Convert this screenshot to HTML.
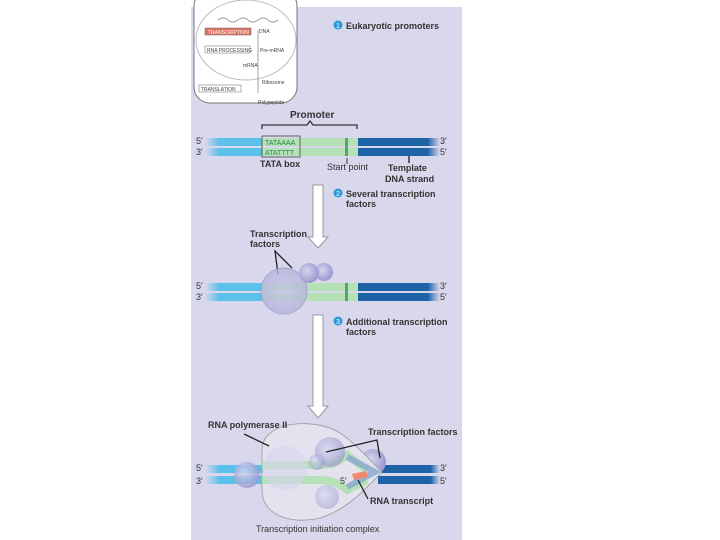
<!DOCTYPE html>
<html><head><style>
body{margin:0;background:#fff;}
svg{display:block;font-family:"Liberation Sans",sans-serif;}
</style></head><body>
<svg width="720" height="540" viewBox="0 0 720 540" xmlns="http://www.w3.org/2000/svg">
<defs>
<linearGradient id="lb" x1="0" x2="1"><stop offset="0" stop-color="#5bc0ea" stop-opacity="0"/><stop offset="0.25" stop-color="#5bc0ea"/><stop offset="1" stop-color="#5bc0ea"/></linearGradient>
<linearGradient id="db" x1="0" x2="1"><stop offset="0" stop-color="#1e63a8"/><stop offset="0.85" stop-color="#1e63a8"/><stop offset="1" stop-color="#1e63a8" stop-opacity="0"/></linearGradient>
<radialGradient id="ball" cx="0.4" cy="0.4" r="0.6"><stop offset="0" stop-color="#d6d6f0"/><stop offset="1" stop-color="#9a9ad0"/></radialGradient>
<radialGradient id="bigball" cx="0.5" cy="0.5" r="0.5"><stop offset="0" stop-color="#c4c4e4" stop-opacity="0.7"/><stop offset="1" stop-color="#b4b4dc" stop-opacity="0.8"/></radialGradient>
<g id="dna">
<rect x="205" y="0" width="57" height="8" fill="url(#lb)"/>
<rect x="205" y="10" width="57" height="8" fill="url(#lb)"/>
<rect x="262" y="0" width="96" height="8" fill="#b6e0b6"/>
<rect x="262" y="10" width="96" height="8" fill="#b6e0b6"/>
<rect x="345" y="0" width="3" height="18" fill="#4faa6a"/>
<rect x="358" y="0" width="82" height="8" fill="url(#db)"/>
<rect x="358" y="10" width="82" height="8" fill="url(#db)"/>
</g>
</defs>
<rect x="191" y="7" width="271" height="533" fill="#d9d7eb"/>
<!-- inset -->
<rect x="194" y="-10" width="103" height="113" rx="16" fill="#fff" stroke="#777" stroke-width="1"/>
<ellipse cx="246" cy="40" rx="50" ry="40" fill="none" stroke="#bbb"/>
<path d="M218 20 q5-4 10 0 t10 0 t10 0 t10 0 t10 0 t10 0" fill="none" stroke="#999"/>
<rect x="205" y="28" width="46" height="7" fill="#e07060" stroke="#666" stroke-width="0.5"/>
<text x="208" y="34" font-size="5" fill="#fff">TRANSCRIPTION</text>
<text x="259" y="33" font-size="5" fill="#444">DNA</text>
<rect x="205" y="46" width="45" height="7" fill="#fff" stroke="#666" stroke-width="0.5"/>
<text x="207" y="52" font-size="5" fill="#444">RNA PROCESSING</text>
<text x="260" y="52" font-size="5" fill="#444">Pre-mRNA</text>
<text x="243" y="67" font-size="5" fill="#444">mRNA</text>
<rect x="199" y="85" width="42" height="7" fill="#fff" stroke="#666" stroke-width="0.5"/>
<text x="201" y="91" font-size="5" fill="#444">TRANSLATION</text>
<text x="262" y="84" font-size="5" fill="#444">Ribosome</text>
<text x="258" y="104" font-size="5" fill="#444">Polypeptide</text>
<line x1="258" y1="30" x2="258" y2="93" stroke="#666" stroke-width="0.6"/>
<!-- step1 -->
<circle cx="338" cy="25" r="4.5" fill="#2a9ad8"/><text x="336" y="28" font-size="7" fill="#fff">1</text>
<text x="346" y="29" font-size="9" font-weight="bold" fill="#333">Eukaryotic promoters</text>
<text x="290" y="118" font-size="10" font-weight="bold" fill="#333">Promoter</text>
<path d="M262 129 v-4 h45 l3 -4 l3 4 h44 v4" fill="none" stroke="#333" stroke-width="1.3"/>
<text x="196" y="144" font-size="9" fill="#333">5′</text><text x="196" y="155" font-size="9" fill="#333">3′</text>
<text x="440" y="144" font-size="9" fill="#333">3′</text><text x="440" y="155" font-size="9" fill="#333">5′</text>
<use href="#dna" y="138"/>
<rect x="262" y="136" width="38" height="21" fill="none" stroke="#444" stroke-width="0.8"/>
<text x="265" y="145" font-size="7" fill="#2a8a4a">TATAAAA</text>
<text x="265" y="155" font-size="7" fill="#2a8a4a">ATATTTT</text>
<text x="260" y="167" font-size="9" font-weight="bold" fill="#333">TATA box</text>
<line x1="347" y1="158" x2="347" y2="164" stroke="#333"/>
<text x="327" y="170" font-size="9" fill="#333">Start point</text>
<line x1="409" y1="156" x2="409" y2="163" stroke="#333" stroke-width="1.5"/>
<text x="388" y="171" font-size="9" font-weight="bold" fill="#333">Template</text>
<text x="385" y="182" font-size="9" font-weight="bold" fill="#333">DNA strand</text>
<!-- arrow1 -->
<path d="M313 185 h10 v52 h5 l-10 11 l-10 -11 h5 z" fill="#fff" stroke="#999"/>
<circle cx="338" cy="193" r="4.5" fill="#2a9ad8"/><text x="336" y="196" font-size="7" fill="#fff">2</text>
<text x="346" y="197" font-size="9" font-weight="bold" fill="#333">Several transcription</text>
<text x="346" y="207" font-size="9" font-weight="bold" fill="#333">factors</text>
<text x="250" y="237" font-size="9" font-weight="bold" fill="#333">Transcription</text>
<text x="250" y="247" font-size="9" font-weight="bold" fill="#333">factors</text>
<path d="M278 274 L275 251 L292 268" fill="none" stroke="#222" stroke-width="1.3"/>
<use href="#dna" y="283"/>
<text x="196" y="289" font-size="9" fill="#333">5′</text><text x="196" y="300" font-size="9" fill="#333">3′</text>
<text x="440" y="289" font-size="9" fill="#333">3′</text><text x="440" y="300" font-size="9" fill="#333">5′</text>
<circle cx="284" cy="291" r="23" fill="url(#bigball)" stroke="#9c9cc8" stroke-width="0.7"/>
<circle cx="324" cy="272" r="9" fill="url(#ball)"/>
<circle cx="309" cy="273" r="10" fill="url(#ball)"/>
<!-- step 3 -->
<path d="M313 315 h10 v91 h5 l-10 12 l-10 -12 h5 z" fill="#fff" stroke="#999"/>
<circle cx="338" cy="321" r="4.5" fill="#2a9ad8"/><text x="336" y="324" font-size="7" fill="#fff">3</text>
<text x="346" y="325" font-size="9" font-weight="bold" fill="#333">Additional transcription</text>
<text x="346" y="335" font-size="9" font-weight="bold" fill="#333">factors</text>
<!-- bottom -->
<text x="196" y="471" font-size="9" fill="#333">5′</text><text x="196" y="484" font-size="9" fill="#333">3′</text>
<text x="440" y="471" font-size="9" fill="#333">3′</text><text x="440" y="484" font-size="9" fill="#333">5′</text>
<rect x="205" y="465" width="60" height="8" fill="url(#lb)"/>
<rect x="205" y="476" width="60" height="8" fill="url(#lb)"/>
<rect x="378" y="465" width="62" height="8" fill="url(#db)"/>
<rect x="378" y="476" width="62" height="8" fill="url(#db)"/>
<circle cx="247" cy="475" r="13" fill="url(#ball)" opacity="0.8"/>
<circle cx="373" cy="462" r="13" fill="url(#ball)"/>
<path d="M262 450 C262 425 300 418 330 428 C345 433 360 450 382 472 C360 495 345 510 320 518 C290 525 262 515 262 490 Z" fill="#e4e4ee" fill-opacity="0.85" stroke="#999" stroke-width="0.8"/>
<path d="M262 465 h55 c15 0 20-2 30-10 l20 15" fill="none" stroke="#b6e0b6" stroke-width="8"/>
<path d="M262 480 h55 c15 0 20 2 30 10 l20 -10" fill="none" stroke="#b6e0b6" stroke-width="8"/>
<path d="M347 457 l28 15 l-28 15" fill="none" stroke="#88a8d0" stroke-width="6" opacity="0.8"/>
<path d="M352 474 l14 -3 l2 6 l-14 3 z" fill="#f08870"/>
<text x="340" y="484" font-size="9" fill="#333">5′</text>
<circle cx="285" cy="468" r="22" fill="#d4d4ec" opacity="0.6"/>
<circle cx="330" cy="452" r="15" fill="url(#ball)" opacity="0.7"/>
<circle cx="317" cy="462" r="8" fill="url(#ball)" opacity="0.6"/>
<circle cx="327" cy="497" r="12" fill="url(#ball)" opacity="0.5"/>
<text x="208" y="428" font-size="9" font-weight="bold" fill="#333">RNA polymerase II</text>
<line x1="244" y1="434" x2="269" y2="446" stroke="#222" stroke-width="1.3"/>
<text x="368" y="435" font-size="9" font-weight="bold" fill="#333">Transcription factors</text>
<path d="M326 452 L377 440 L380 458" fill="none" stroke="#222" stroke-width="1.3"/>
<line x1="358" y1="480" x2="368" y2="499" stroke="#222" stroke-width="1.3"/>
<text x="370" y="504" font-size="9" font-weight="bold" fill="#333">RNA transcript</text>
<text x="256" y="532" font-size="9" fill="#333">Transcription initiation complex</text>
</svg>
</body></html>
